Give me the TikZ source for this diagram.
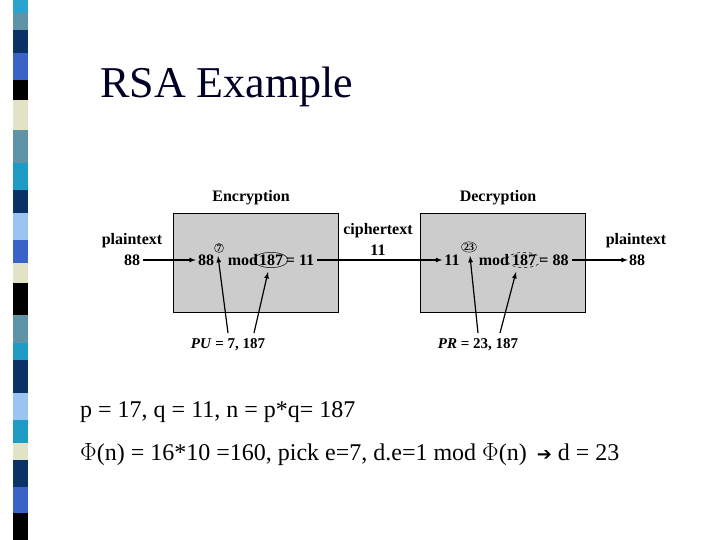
\documentclass[tikz,border=0pt]{standalone}
\usepackage{fontspec}
\usetikzlibrary{shapes.geometric}
\setmainfont{Liberation Serif}
\newfontfamily\dv{DejaVu Sans}
\begin{document}
\begin{tikzpicture}[x=1pt,y=-1pt,
  lab/.style={font=\bfseries\fontsize{16}{17}\selectfont,inner sep=0pt},
  sm/.style={font=\bfseries\fontsize{10}{10}\selectfont,inner sep=0pt},
  arr/.style={-latex,line width=1.2pt},
  box/.style={draw,fill=black!20,line width=0.6pt}]
\useasboundingbox (0,0) rectangle (720,540);
\fill[white] (0,0) rectangle (720,540);
% left strip
\foreach \a/\b/\c in {0/13/2BA3D0,13/30/5F93A8,30/53/0A3266,53/80/3A62C8,80/100/000000,100/130/E2E2C6,130/163/5F93A8,163/190/1E9CC8,190/213/0A3266,213/240/9CC4F2,240/263/3A62C8,263/283/E2E2C6,283/315/000000,315/343/5F93A8,343/360/1E9CC8,360/393/0A3266,393/420/9CC4F2,420/443/1E9CC8,443/460/E2E2C6,460/487/0A3266,487/513/3A62C8,513/540/000000}{
  \definecolor{tmp}{HTML}{\c}
  \fill[tmp] (13,\a) rectangle (28,\b);
}
\node[anchor=base west,inner sep=0pt,font=\fontsize{44}{44}\selectfont,text=black!85!blue] (title) at (100,98) {RSA Example};
% boxes
\draw[box] (173,213) rectangle (338,312);
\draw[box] (420,213) rectangle (585,312);
\node[lab] (enc) at (251,198) {Encryption};
\node[lab] (dec) at (498,198) {Decryption};
\node[lab] (pt1) at (132,241) {plaintext};
\node[lab] (n88a) at (132,260) {88};
\node[lab] (ct) at (378,231) {ciphertext};
\node[lab] (c11) at (378,250) {11};
\node[lab] (pt2) at (636,241) {plaintext};
\node[lab] (n88b) at (637,260) {88};
% encryption formula
\node[lab] (e88) at (206,260) {88};
\node[sm,draw,circle,inner sep=0.3pt,line width=0.4pt] (e7) at (219,248) {7};
\node[lab] (emod) at (243,260) {mod};
\node[lab,draw,ellipse,inner sep=0pt,line width=0.5pt] (e187) at (271,260) {187};
\node[lab] (e11) at (300,260) {= 11};
% decryption formula
\node[lab] (d11) at (452,260) {11};
\node[sm,draw,ellipse,inner sep=0.3pt,line width=0.4pt] (d23) at (469,247) {23};
\node[lab] (dmod) at (494,260) {mod};
\node[lab,draw,dashed,ellipse,inner sep=0pt,line width=0.5pt] (d187) at (524,260) {187};
\node[lab] (d88) at (554,260) {= 88};
% keys
\node[lab,font=\bfseries\fontsize{15}{16}\selectfont] (pu) at (228,345) {\textit{PU} = 7, 187};
\node[lab,font=\bfseries\fontsize{15}{16}\selectfont] (pr) at (478,345) {\textit{PR} = 23, 187};
\coordinate (pua) at (228,333); \coordinate (pub) at (254,333);
\coordinate (pra) at (478,333); \coordinate (prb) at (500,333);
\coordinate (t1) at (218,256); \coordinate (t2) at (268,272);
\coordinate (t3) at (470,256); \coordinate (t4) at (516,272);
% arrows
\draw[arr] ([xshift=3pt]n88a.east) -- ([xshift=-2pt]e88.west);
\draw[arr] ([xshift=3pt]e11.east) -- ([xshift=-2pt]d11.west);
\draw[arr] ([xshift=3pt]d88.east) -- ([xshift=-1pt]n88b.west);
\draw[arr] (pua) -- (t1);
\draw[arr] (pub) -- (t2);
\draw[arr] (pra) -- (t3);
\draw[arr] (prb) -- (t4);
% text lines
\node[anchor=base west,inner sep=0pt,font=\fontsize{24}{24}\selectfont] (l1) at (80,417) {p = 17, q = 11, n = p*q= 187};
\node[anchor=base west,inner sep=0pt,font=\fontsize{24}{24}\selectfont] (l2) at (80,460) {$\Phi$(n) = 16*10 =160, pick e=7, d.e=1 mod $\Phi$(n) \,{\dv\fontsize{18}{18}\selectfont ➔} d = 23};
\end{tikzpicture}
\end{document}
